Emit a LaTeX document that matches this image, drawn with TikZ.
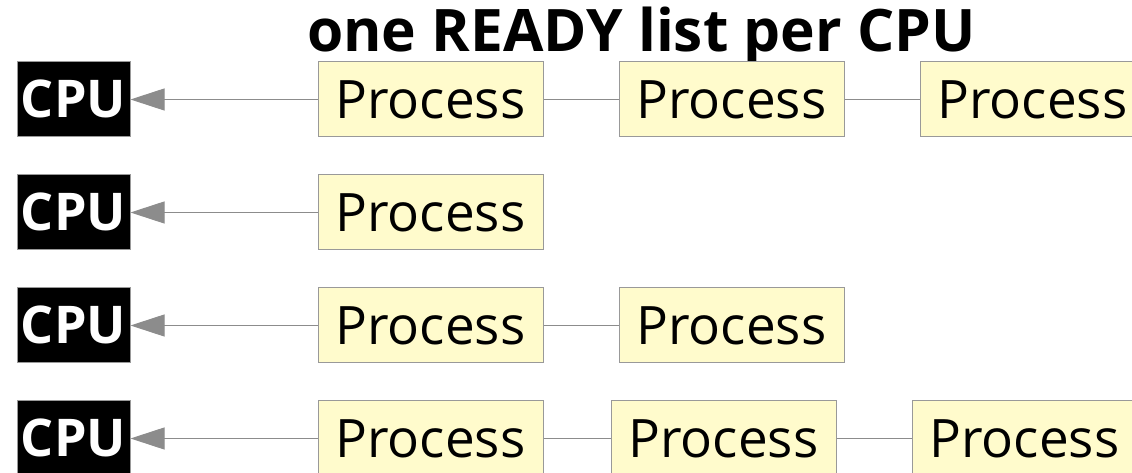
\documentclass[tikz,border=0pt]{standalone}
\usepackage{fontspec}
\setmainfont{Open Sans}
\usetikzlibrary{arrows.meta}
\definecolor{procfill}{HTML}{FFFBCC}
\definecolor{edgegray}{HTML}{999999}
\definecolor{linkgray}{HTML}{8C8C8C}
\tikzset{
  x=1pt, y=1pt,
  proc/.style={draw=edgegray, line width=1pt, fill=procfill, minimum width=225pt,
    minimum height=75pt, inner sep=0pt, text height=38pt, text depth=0pt,
    font=\fontsize{53}{60}\selectfont},
  cpu/.style={draw=edgegray, line width=1pt, fill=black, text=white, minimum width=113pt,
    minimum height=75pt, inner sep=0pt, text height=37pt, text depth=0pt,
    font=\bfseries\fontsize{52}{60}\selectfont},
  link/.style={draw=linkgray, line width=1pt},
  feed/.style={link, -{Triangle[length=34pt, width=22pt]}, linkgray},
  heading/.style={font=\bfseries\fontsize{58.6}{70}\selectfont, inner sep=0pt, anchor=base}
}
\begin{document}
\begin{tikzpicture}
\useasboundingbox (0,0) rectangle (1132,473);
% title
\node[heading] (title) at (641.5,421.5) {one READY list per CPU};
% CPUs, one per row
\node[cpu] (c1) at (73.5,373.5) {CPU};
\node[cpu] (c2) at (73.5,260.5) {CPU};
\node[cpu] (c3) at (73.5,147.5) {CPU};
\node[cpu] (c4) at (73.5,34.5) {CPU};
% row 1
\node[proc] (p11) at (430.5,373.5) {Process};
\node[proc] (p12) at (731.5,373.5) {Process};
\node[proc] (p13) at (1032.5,373.5) {Process};
% row 2
\node[proc] (p21) at (430.5,260.5) {Process};
% row 3
\node[proc] (p31) at (430.5,147.5) {Process};
\node[proc] (p32) at (731.5,147.5) {Process};
% row 4
\node[proc] (p41) at (430.5,34.5) {Process};
\node[proc] (p42) at (723.5,34.5) {Process};
\node[proc] (p43) at (1024.5,34.5) {Process};
% list links
\draw[feed] (p11) -- (c1);
\draw[link] (p11) -- (p12);
\draw[link] (p12) -- (p13);
\draw[feed] (p21) -- (c2);
\draw[feed] (p31) -- (c3);
\draw[link] (p31) -- (p32);
\draw[feed] (p41) -- (c4);
\draw[link] (p41) -- (p42);
\draw[link] (p42) -- (p43);
\end{tikzpicture}
\end{document}
